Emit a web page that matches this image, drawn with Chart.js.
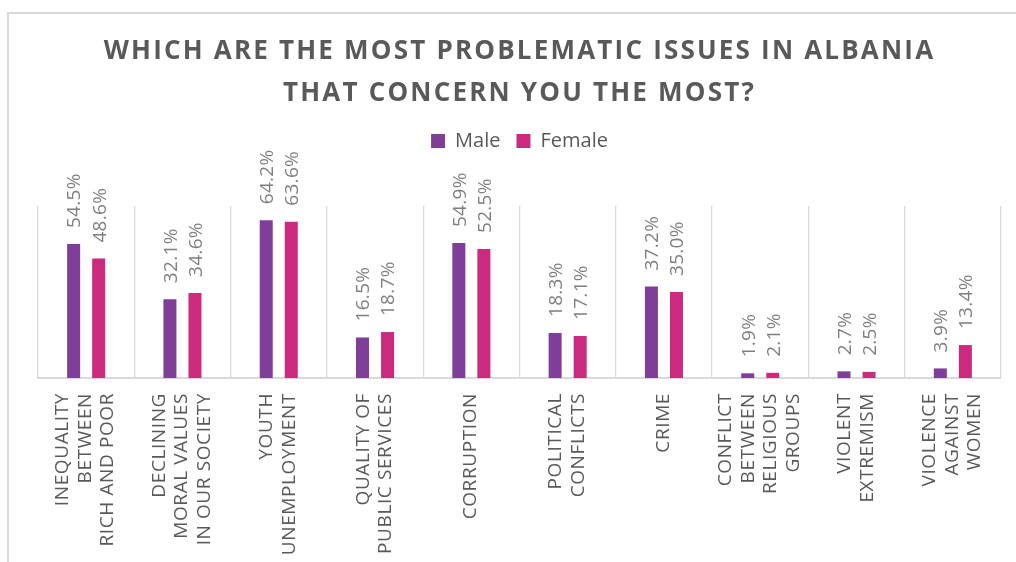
<!DOCTYPE html>
<html><head><meta charset="utf-8">
<script src="https://cdn.jsdelivr.net/npm/chart.js@4.4.1/dist/chart.umd.min.js"></script>
<style>html,body{margin:0;padding:0;background:#fff;} canvas{display:block;}</style>
</head><body>
<canvas id="c" width="1016" height="562"></canvas>
<script>
const categories = [
  ['INEQUALITY', 'BETWEEN', 'RICH AND POOR'],
  ['DECLINING', 'MORAL VALUES', 'IN OUR SOCIETY'],
  ['YOUTH', 'UNEMPLOYMENT'],
  ['QUALITY OF', 'PUBLIC SERVICES'],
  ['CORRUPTION'],
  ['POLITICAL', 'CONFLICTS'],
  ['CRIME'],
  ['CONFLICT', 'BETWEEN', 'RELIGIOUS', 'GROUPS'],
  ['VIOLENT', 'EXTREMISM'],
  ['VIOLENCE', 'AGAINST', 'WOMEN']
];
const maleValues = [54.5, 32.1, 64.2, 16.5, 54.9, 18.3, 37.2, 1.9, 2.7, 3.9];
const femaleValues = [48.6, 34.6, 63.6, 18.7, 52.5, 17.1, 35.0, 2.1, 2.5, 13.4];
const seriesNames = ['Male', 'Female'];
const seriesColors = ['#7f3f98', '#cc2a7f'];
const titleLines = ['WHICH ARE THE MOST PROBLEMATIC ISSUES IN ALBANIA', 'THAT CONCERN YOU THE MOST?'];
const yMin = 0, yMax = 70;

const FONT = '"Open Sans", "DejaVu Sans", sans-serif';
Chart.defaults.font.family = FONT;

const customPlugin = {
  id: 'customPlugin',
  beforeLayout(chart) {
    const lg = chart.legend;
    if (lg && !lg._extraGap) {
      const f = lg.fit;
      lg.fit = function () { f.apply(this, arguments); this.height += 45; };
      lg._extraGap = true;
    }
    const tb = chart.titleBlock;
    if (tb && !tb._spaced) {
      const d = tb.draw;
      tb.draw = function () {
        const c = this.ctx; const o = c.letterSpacing;
        c.letterSpacing = '2.2px';
        d.apply(this, arguments);
        c.letterSpacing = o;
      };
      tb._spaced = true;
    }
  },
  beforeDraw(chart) {
    const ctx = chart.ctx;
    ctx.save();
    ctx.fillStyle = '#d9d9d9';
    ctx.fillRect(7, 12, chart.width, 2);
    ctx.fillRect(7, 12, 2, chart.height);
    ctx.restore();
  },
  afterDatasetsDraw(chart) {
    const ctx = chart.ctx;
    const size = 19;
    ctx.save();
    ctx.font = size + 'px ' + FONT;
    ctx.fillStyle = '#7f7f7f';
    ctx.letterSpacing = '0.3px';
    ctx.textAlign = 'left';
    ctx.textBaseline = 'alphabetic';
    chart.data.datasets.forEach((ds, di) => {
      const meta = chart.getDatasetMeta(di);
      meta.data.forEach((bar, i) => {
        ctx.save();
        ctx.translate(bar.x, bar.y - 16);
        ctx.rotate(-Math.PI / 2);
        ctx.fillText(ds.data[i].toFixed(1) + '%', 0, size * 0.36);
        ctx.restore();
      });
    });
    ctx.restore();
  },
  afterDraw(chart) {
    const ctx = chart.ctx;
    const xs = chart.scales.x;
    const size = 19, lh = 22.5;
    ctx.save();
    ctx.font = size + 'px ' + FONT;
    ctx.fillStyle = '#595959';
    ctx.letterSpacing = '0.6px';
    ctx.textAlign = 'right';
    ctx.textBaseline = 'alphabetic';
    const top = chart.chartArea.bottom + 15;
    categories.forEach((lines, i) => {
      const cx = xs.getPixelForValue(i) - 2;
      const n = lines.length;
      lines.forEach((t, j) => {
        ctx.save();
        ctx.translate(cx + (j - (n - 1) / 2) * lh, top);
        ctx.rotate(-Math.PI / 2);
        ctx.fillText(t, 0, size * 0.36);
        ctx.restore();
      });
    });
    ctx.restore();
  }
};

new Chart(document.getElementById('c'), {
  type: 'bar',
  data: {
    labels: categories,
    datasets: [
      { label: seriesNames[0], data: maleValues, backgroundColor: seriesColors[0], borderWidth: 0 },
      { label: seriesNames[1], data: femaleValues, backgroundColor: seriesColors[1], borderWidth: 0 }
    ]
  },
  options: {
    responsive: false,
    animation: false,
    events: [],
    categoryPercentage: 0.52,
    barPercentage: 0.52,
    layout: { padding: { top: 9, left: 38, right: 15, bottom: 184 } },
    plugins: {
      title: {
        display: true,
        text: titleLines,
        color: '#595959',
        font: { family: FONT, size: 26, weight: 'bold', lineHeight: 42 / 26 },
        padding: { top: 22, bottom: 0 }
      },
      legend: {
        display: true,
        position: 'top',
        labels: {
          color: '#595959',
          font: { family: FONT, size: 20 },
          boxWidth: 14,
          boxHeight: 14,
          padding: 16
        }
      },
      tooltip: { enabled: false }
    },
    scales: {
      x: {
        display: true,
        offset: true,
        ticks: { display: false },
        grid: { display: true, offset: true, color: '#d9d9d9', lineWidth: 1.3, drawTicks: false },
        border: { display: true, color: '#d9d9d9', width: 2 }
      },
      y: {
        display: false,
        min: yMin,
        max: yMax
      }
    }
  },
  plugins: [customPlugin]
});
</script>
</body></html>
